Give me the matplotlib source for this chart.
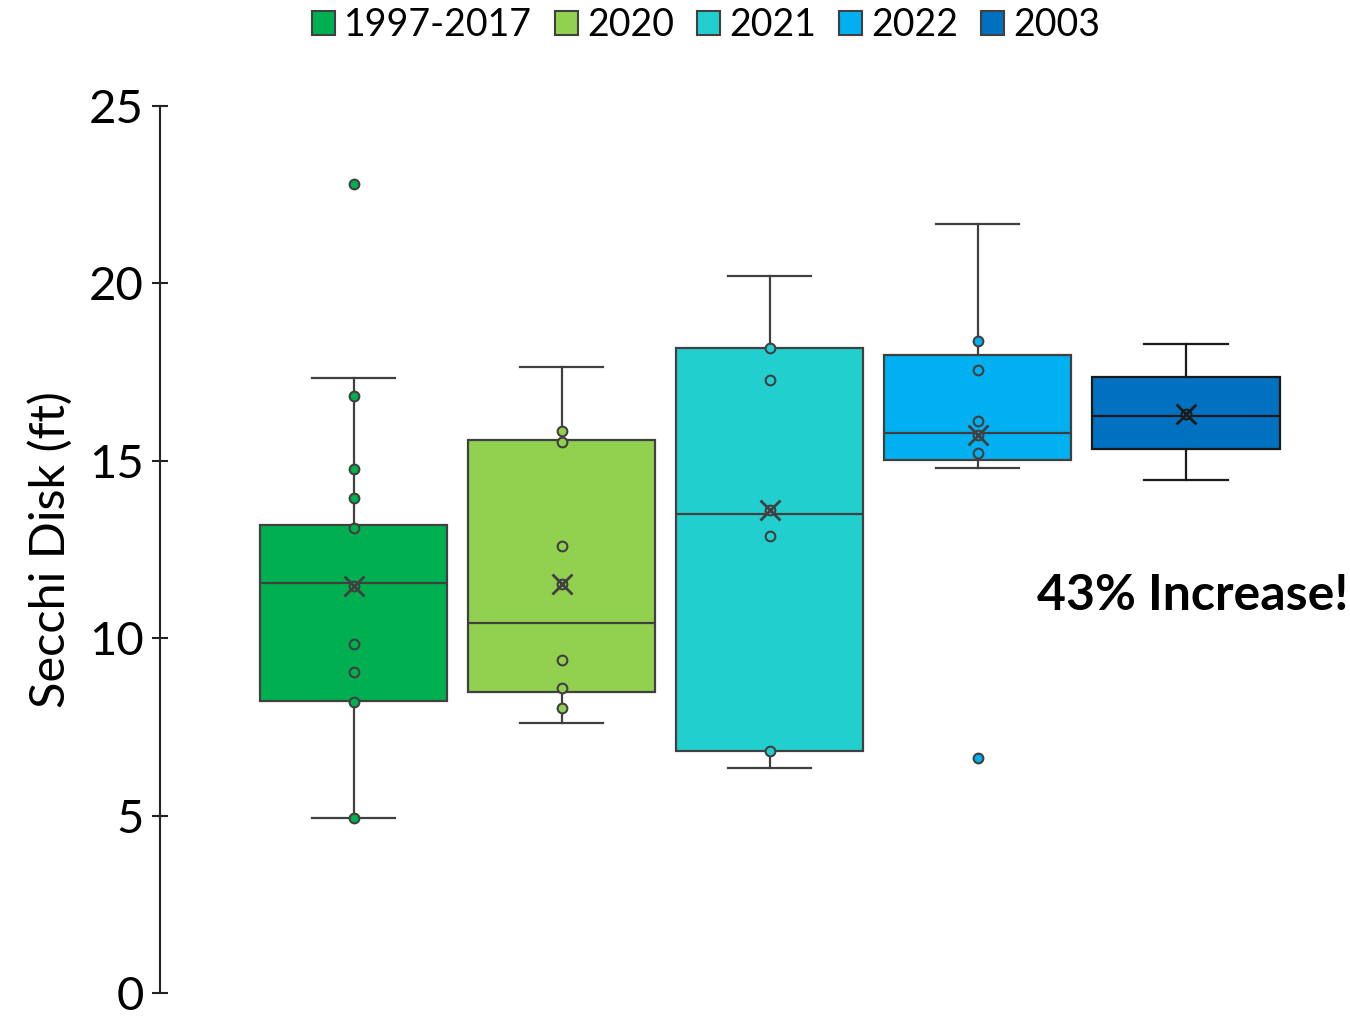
import numpy as np
import matplotlib.pyplot as plt
from matplotlib.patches import Patch

plt.rcParams['font.family'] = ['Lato', 'DejaVu Sans']

# groups and colours
groups = ['1997-2017', '2020', '2021', '2022', '2003']
colors = ['#00B050', '#92D050', '#22CFCF', '#00B0F0', '#0070C0']
edges = ['#404040', '#404040', '#404040', '#404040', '#1a1a1a']

# box statistics (ft)
q1 = [8.23, 8.48, 6.82, 15.02, 15.33]
median = [11.55, 10.44, 13.51, 15.77, 16.26]
q3 = [13.19, 15.60, 18.17, 17.98, 17.37]
whislo = [4.93, 7.60, 6.35, 14.80, 14.45]
whishi = [17.33, 17.64, 20.21, 21.67, 18.30]
mean = [11.46, 11.52, 13.60, 15.74, 16.32]

# individual readings drawn on each box
points = [
    [22.80, 16.83, 14.77, 13.95, 13.10, 9.85, 9.04, 8.21, 4.94],
    [15.83, 15.54, 12.61, 9.38, 8.61, 8.02],
    [18.17, 17.27, 12.89, 6.82],
    [18.37, 17.55, 16.11, 15.21, 6.61],
    [],
]

fig = plt.figure(figsize=(13.5, 10.19), dpi=100)
ax = fig.add_axes([160 / 1350, 26 / 1019, 1130 / 1350, 887 / 1019])

pos = np.arange(len(groups))
for i in range(len(groups)):
    stats = [dict(q1=q1[i], med=median[i], q3=q3[i], whislo=whislo[i],
                  whishi=whishi[i], mean=mean[i], fliers=[])]
    ec = edges[i]
    ax.bxp(stats, positions=[pos[i]], widths=0.9, patch_artist=True,
           showmeans=True, showfliers=False,
           boxprops=dict(facecolor=colors[i], edgecolor=ec, linewidth=1.6),
           medianprops=dict(color=ec, linewidth=1.6),
           whiskerprops=dict(color=ec, linewidth=1.6),
           capprops=dict(color=ec, linewidth=1.6),
           capwidths=0.4,
           meanprops=dict(marker='x', markersize=14, markeredgecolor=ec,
                          markeredgewidth=2, zorder=5))
    # small ring under the mean cross
    ax.plot(pos[i], mean[i], 'o', ms=7, mfc=colors[i], mec=ec, mew=1.5, zorder=4)
    if points[i]:
        ax.plot(np.full(len(points[i]), pos[i]), points[i], 'o', ms=7,
                mfc=colors[i], mec=ec, mew=1.5, zorder=4, clip_on=False)

ax.set_xlim(-0.93, 4.50)
ax.set_ylim(0, 25)
ax.set_yticks([0, 5, 10, 15, 20, 25])
ax.set_xticks([])
for s in ['top', 'right', 'bottom']:
    ax.spines[s].set_visible(False)
ax.spines['left'].set_linewidth(1.5)
ax.spines['left'].set_color('#222222')
ax.tick_params(axis='y', direction='inout', length=11, width=1.5,
               color='#222222', labelsize=34, pad=6)
ax.set_ylabel('Secchi Disk (ft)', fontsize=35, labelpad=12)

ax.text(4.03, 11.2, '43% Increase!', fontsize=36, fontweight='bold',
        ha='center', va='center', clip_on=False)

handles = [Patch(facecolor=c, edgecolor='#404040', linewidth=1.5) for c in colors]
fig.legend(handles, groups, loc='upper center', bbox_to_anchor=(0.523, 1.026),
           ncol=5, frameon=False, fontsize=27, handlelength=0.62,
           handleheight=0.62, handletextpad=0.25, columnspacing=0.6)

fig.savefig('out.png', dpi=100)
